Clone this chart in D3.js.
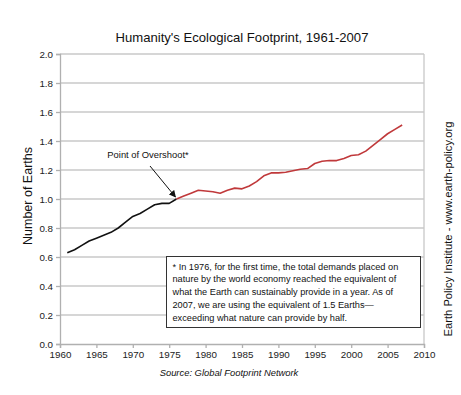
<!DOCTYPE html>
<html>
<head>
<meta charset="utf-8">
<script src="https://cdn.jsdelivr.net/npm/d3@7"></script>
<style>
  html, body { margin: 0; padding: 0; background: #fff; }
  svg { display: block; font-family: "Liberation Sans", Arial, Helvetica, sans-serif; }
</style>
</head>
<body>
<svg id="chart" width="461" height="395"></svg>
<script>
// ---- Data ----
const yearsBefore = [1961, 1962, 1963, 1964, 1965, 1966, 1967, 1968, 1969, 1970, 1971, 1972, 1973, 1974, 1975, 1976];
const valuesBefore = [0.63, 0.65, 0.68, 0.71, 0.73, 0.75, 0.77, 0.80, 0.84, 0.88, 0.90, 0.93, 0.96, 0.97, 0.97, 1.00];
const yearsAfter = [1976, 1977, 1978, 1979, 1980, 1981, 1982, 1983, 1984, 1985, 1986, 1987, 1988, 1989, 1990, 1991,
  1992, 1993, 1994, 1995, 1996, 1997, 1998, 1999, 2000, 2001, 2002, 2003, 2004, 2005, 2006, 2007];
const valuesAfter = [1.00, 1.02, 1.04, 1.06, 1.055, 1.05, 1.04, 1.06, 1.075, 1.07, 1.09, 1.12, 1.16, 1.18, 1.18, 1.185,
  1.195, 1.205, 1.21, 1.245, 1.26, 1.265, 1.265, 1.28, 1.30, 1.305, 1.33, 1.37, 1.41, 1.45, 1.48, 1.51];
const xTicks = [1960, 1965, 1970, 1975, 1980, 1985, 1990, 1995, 2000, 2005, 2010];
const yTicks = [0.0, 0.2, 0.4, 0.6, 0.8, 1.0, 1.2, 1.4, 1.6, 1.8, 2.0];
const title = "Humanity's Ecological Footprint, 1961-2007";
const yLabel = "Number of Earths";
const sourceText = "Source: Global Footprint Network";
const sideText = "Earth Policy Institute - www.earth-policy.org";
const overshootLabel = "Point of Overshoot*";
const overshootPoint = { year: 1976, value: 1.00 };
const noteLines = [
  "* In 1976, for the first time, the total demands placed on",
  "nature by the world economy reached the equivalent of",
  "what the Earth can sustainably provide in a year.  As of",
  "2007, we are using the equivalent of 1.5 Earths\u2014",
  "exceeding what nature can provide by half."
];

// ---- Layout ----
const svg = d3.select("#chart");
const plot = { left: 60, right: 424, top: 54, bottom: 344 };
const x = d3.scaleLinear().domain([1960, 2010]).range([plot.left, plot.right]);
const y = d3.scaleLinear().domain([0, 2]).range([plot.bottom, plot.top]);

svg.append("rect").attr("width", 461).attr("height", 395).attr("fill", "#fff");

// gridlines
svg.append("g").selectAll("line").data(yTicks.filter(d => d > 0)).join("line")
  .attr("x1", plot.left).attr("x2", plot.right)
  .attr("y1", d => y(d)).attr("y2", d => y(d))
  .attr("stroke", "#c8c8c8").attr("stroke-width", 1.3);
// right border
svg.append("line").attr("x1", plot.right).attr("x2", plot.right)
  .attr("y1", plot.top).attr("y2", plot.bottom)
  .attr("stroke", "#c8c8c8").attr("stroke-width", 1.3);

// axes
const yAxis = d3.axisLeft(y).tickValues(yTicks).tickFormat(d3.format(".1f")).tickSize(4).tickPadding(3);
const gy = svg.append("g").attr("transform", `translate(${plot.left},0)`).call(yAxis);
const xAxis = d3.axisBottom(x).tickValues(xTicks).tickFormat(d3.format("d")).tickSize(4).tickPadding(3);
const gx = svg.append("g").attr("transform", `translate(0,${plot.bottom})`).call(xAxis);
[gx, gy].forEach(g => {
  g.select(".domain").attr("stroke", "#b0b0b0").attr("stroke-width", 1.3);
  g.selectAll(".tick line").attr("stroke", "#b0b0b0").attr("stroke-width", 1.3);
  g.selectAll(".tick text").attr("fill", "#222").attr("font-size", 9.8)
    .attr("font-family", "'Liberation Sans', Arial, sans-serif");
});

// lines
const line = d3.line().x(d => x(d[0])).y(d => y(d[1]));
svg.append("path").datum(yearsBefore.map((yr, i) => [yr, valuesBefore[i]]))
  .attr("d", line).attr("fill", "none").attr("stroke", "#111").attr("stroke-width", 1.6)
  .attr("stroke-linejoin", "round");
svg.append("path").datum(yearsAfter.map((yr, i) => [yr, valuesAfter[i]]))
  .attr("d", line).attr("fill", "none").attr("stroke", "#c0393b").attr("stroke-width", 1.6)
  .attr("stroke-linejoin", "round");

// arrow annotation
svg.append("defs").append("marker").attr("id", "arrow")
  .attr("viewBox", "0 0 10 10").attr("refX", 9).attr("refY", 5)
  .attr("markerWidth", 7).attr("markerHeight", 7).attr("orient", "auto")
  .append("path").attr("d", "M0,0 L10,5 L0,10 z").attr("fill", "#111");
const px = x(overshootPoint.year), py = y(overshootPoint.value);
svg.append("line").attr("x1", 150).attr("y1", 166).attr("x2", px - 1).attr("y2", py - 2)
  .attr("stroke", "#111").attr("stroke-width", 1).attr("marker-end", "url(#arrow)");
svg.append("text").attr("x", 148).attr("y", 158).attr("text-anchor", "middle")
  .attr("font-size", 9.4).attr("fill", "#111").text(overshootLabel);

// note box
svg.append("rect").attr("x", 166.5).attr("y", 256.5).attr("width", 254).attr("height", 71)
  .attr("fill", "#fff").attr("stroke", "#333").attr("stroke-width", 1);
svg.append("g").selectAll("text").data(noteLines).join("text")
  .attr("x", 172.5).attr("y", (d, i) => 269.5 + i * 12.9)
  .attr("font-size", 9.2).attr("fill", "#111").text(d => d);

// title
svg.append("text").attr("x", 242).attr("y", 42).attr("text-anchor", "middle")
  .attr("font-size", 13.1).attr("fill", "#111").text(title);

// y label
svg.append("text").attr("transform", "translate(32,196) rotate(-90)").attr("text-anchor", "middle")
  .attr("font-size", 12.5).attr("fill", "#111").text(yLabel);

// source
svg.append("text").attr("x", 229).attr("y", 376).attr("text-anchor", "middle")
  .attr("font-size", 9.4).attr("font-style", "italic").attr("fill", "#111").text(sourceText);

// side text
svg.append("text").attr("transform", "translate(452,229) rotate(-90)").attr("text-anchor", "middle")
  .attr("font-size", 11.2).attr("fill", "#111").text(sideText);
</script>
</body>
</html>
